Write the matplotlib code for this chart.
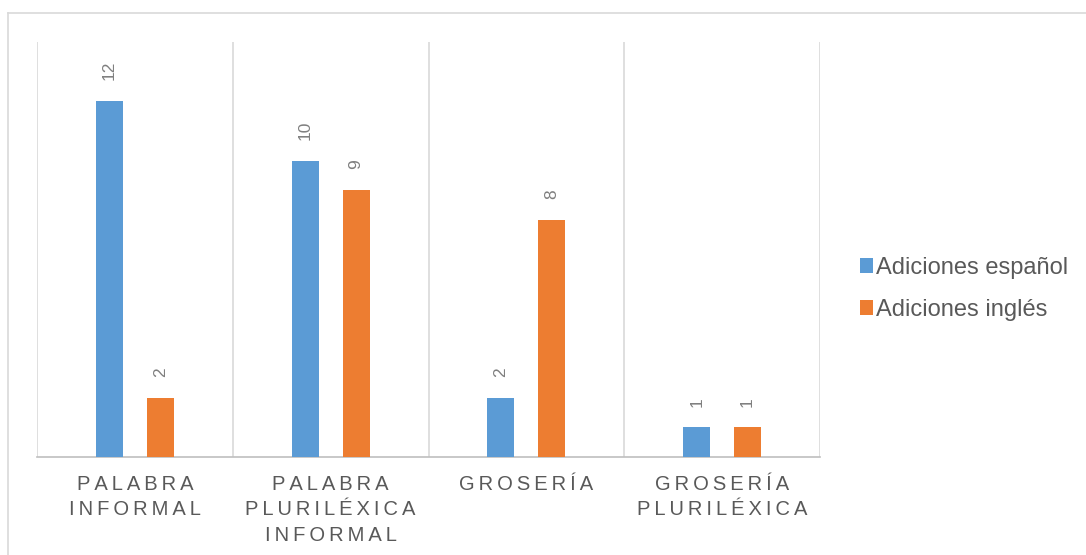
import matplotlib.pyplot as plt
import numpy as np
from matplotlib.lines import Line2D

plt.rcParams['font.family'] = ['Liberation Sans', 'DejaVu Sans']

categories = ['PALABRA\nINFORMAL', 'PALABRA\nPLURILÉXICA\nINFORMAL', 'GROSERÍA', 'GROSERÍA\nPLURILÉXICA']
espanol = [12, 10, 2, 1]
ingles = [2, 9, 8, 1]
series_names = ['Adiciones español', 'Adiciones inglés']
colors = ['#5b9bd5', '#ed7d31']


def spaced(s):
    # imitate the wide letter spacing of the category labels
    return '\n'.join('\u2009'.join(line) for line in s.split('\n'))


fig = plt.figure(figsize=(10.86, 5.55), dpi=100)
ax = fig.add_axes([0.0341, 0.1766, 0.7210, 0.7477])

x = np.arange(len(categories))
w = 0.138
off = 0.13
b1 = ax.bar(x - off, espanol, w, color=colors[0], label=series_names[0], zorder=3)
b2 = ax.bar(x + off, ingles, w, color=colors[1], label=series_names[1], zorder=3)

for bars in (b1, b2):
    for r in bars:
        ax.annotate(f'{int(r.get_height())}', (r.get_x() + r.get_width() / 2, r.get_height()),
                    xytext=(0, 15), textcoords='offset points', rotation=90,
                    ha='center', va='bottom', fontsize=12.5, color='#7f7f7f')

ax.set_xlim(-0.5, len(categories) - 0.5)
ax.set_ylim(0, 14)
ax.set_yticks([])
ax.set_xticks(x)
ax.set_xticklabels([spaced(c) for c in categories], fontsize=14.5, color='#595959')
for t in ax.get_xticklabels():
    t.set_linespacing(1.42)
ax.tick_params(axis='x', length=0, pad=13)

for b in np.arange(-0.5, len(categories), 1.0):
    ax.axvline(b, color='#d9d9d9', lw=1.2, zorder=1)

for s in ['top', 'right', 'left']:
    ax.spines[s].set_visible(False)
ax.spines['bottom'].set_color('#bfbfbf')
ax.spines['bottom'].set_linewidth(1.2)

ax.legend(loc='center left', bbox_to_anchor=(1.051, 0.405), frameon=False, fontsize=17,
          handlelength=0.55, handleheight=0.55, handletextpad=0.15, labelspacing=0.85,
          borderpad=0, borderaxespad=0, labelcolor='#595959')

# outer chart border (only left and top visible)
fig.add_artist(Line2D([8 / 1086, 8 / 1086], [0, 1 - 13 / 555], transform=fig.transFigure,
                      color='#d9d9d9', lw=1.2))
fig.add_artist(Line2D([8 / 1086, 1], [1 - 13 / 555, 1 - 13 / 555], transform=fig.transFigure,
                      color='#d9d9d9', lw=1.2))

plt.savefig('out.png', dpi=100)
